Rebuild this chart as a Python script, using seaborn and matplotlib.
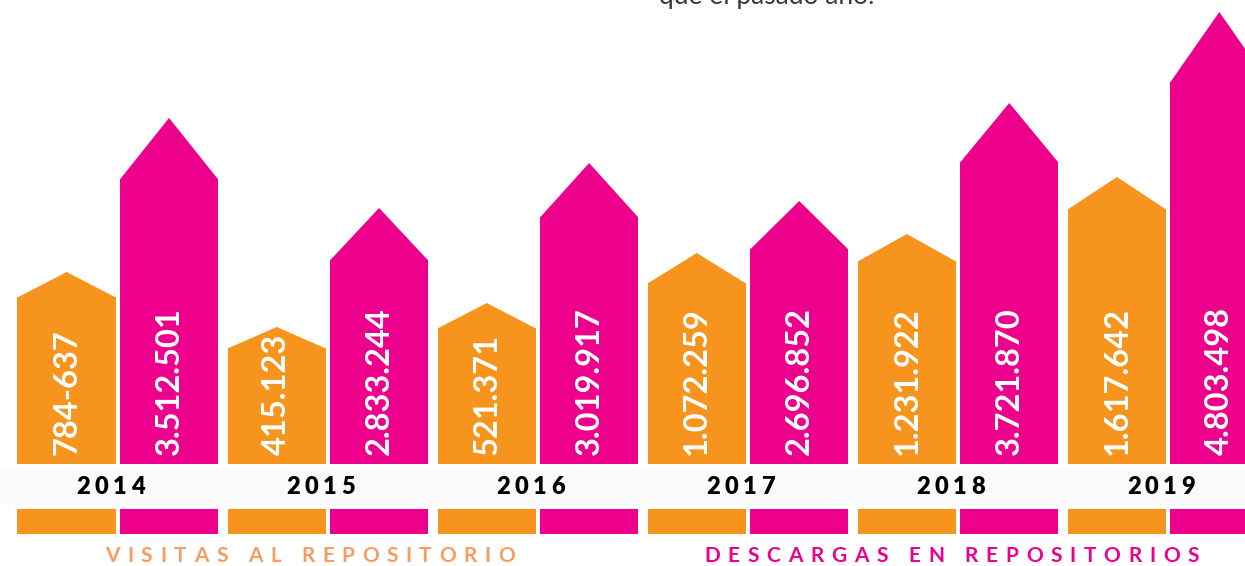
import pandas as pd
import seaborn as sns
import matplotlib.pyplot as plt
from matplotlib.patches import Polygon, Rectangle

# Data read from the infographic
years = ["2014", "2015", "2016", "2017", "2018", "2019"]
visitas_labels = ["784-637", "415.123", "521.371", "1.072.259", "1.231.922", "1.617.642"]
descargas_labels = ["3.512.501", "2.833.244", "3.019.917", "2.696.852", "3.721.870", "4.803.498"]

# drawn heights of the shapes (body and arrow tip)
visitas_body = [167, 116, 136, 181, 203, 255]
visitas_tip = [192, 137, 161, 211, 230, 287]
descargas_body = [285, 204, 247, 215, 302, 382]
descargas_tip = [346, 256, 301, 263, 361, 452]

series = ["Visitas", "Descargas"]
ORANGE = "#F7941D"
MAGENTA = "#EC008C"

df = pd.DataFrame({
    "year": years * 2,
    "serie": [series[0]] * 6 + [series[1]] * 6,
    "body": visitas_body + descargas_body,
})

sns.set_theme(style="white")
plt.rcParams["font.family"] = ["Lato", "DejaVu Sans"]

fig = plt.figure(figsize=(12.45, 5.66), dpi=100)
ax = fig.add_axes([0, 0, 1, 1])

sns.barplot(data=df, x="year", y="body", hue="serie", order=years,
            hue_order=series, palette=[ORANGE, MAGENTA], width=0.975,
            gap=0.04, saturation=1, linewidth=0, legend=False, ax=ax)

ax.set_xlim(-0.561, 5.366)
ax.set_ylim(-102, 464)
ax.axis("off")

renderer = fig.canvas.get_renderer()


def tracked_text(x, y, s, width_px, **kw):
    """Write s letter by letter, centred at (x, y), spread over width_px pixels."""
    parts = [ax.text(0, y, ch, ha="left", va="center", **kw) for ch in s]
    widths = [t.get_window_extent(renderer).width for t in parts]
    track = (width_px - sum(widths)) / (len(s) - 1)
    xc = ax.transData.transform((x, y))[0]
    cur = xc - width_px / 2
    for t, w in zip(parts, widths):
        t.set_x(ax.transData.inverted().transform((cur, 0))[0])
        cur += w + track


# grey band with the years
ax.add_patch(Rectangle((-1, -41), 8, 38, facecolor="#fafafa",
                       edgecolor="none", zorder=0))

tips = [visitas_tip, descargas_tip]
labels = [visitas_labels, descargas_labels]
colors = [ORANGE, MAGENTA]
for k, cont in enumerate(ax.containers):
    for i, bar in enumerate(cont):
        x0 = bar.get_x()
        w = bar.get_width()
        h = bar.get_height()
        # arrow tip on top of the bar
        ax.add_patch(Polygon([(x0, h - 0.5), (x0 + w / 2, tips[k][i]),
                              (x0 + w, h - 0.5)], closed=True,
                             facecolor=colors[k], edgecolor="none"))
        # small swatch under the year band
        ax.add_patch(Rectangle((x0, -70), w, 25, facecolor=colors[k],
                               edgecolor="none"))
        ax.text(x0 + w / 2, 9, labels[k][i], rotation=90, ha="center",
                va="bottom", color="white", fontsize=23.5, fontweight="bold")

for i, yr in enumerate(years):
    tracked_text(i - 0.035, -23, yr, 68, fontsize=17, fontweight="heavy",
                 color="black")

tracked_text(0.915, -92, "VISITAS AL REPOSITORIO", 410, fontsize=15,
             fontweight="bold", color="#F89C5F")
tracked_text(3.97, -92, "DESCARGAS EN REPOSITORIOS", 495, fontsize=15,
             fontweight="bold", color=MAGENTA)

ax.text(3.09, 460, "que el pasado año.", ha="center", va="baseline",
        fontsize=19, color="#3a3a3a")

fig.savefig("out.png", dpi=100)
